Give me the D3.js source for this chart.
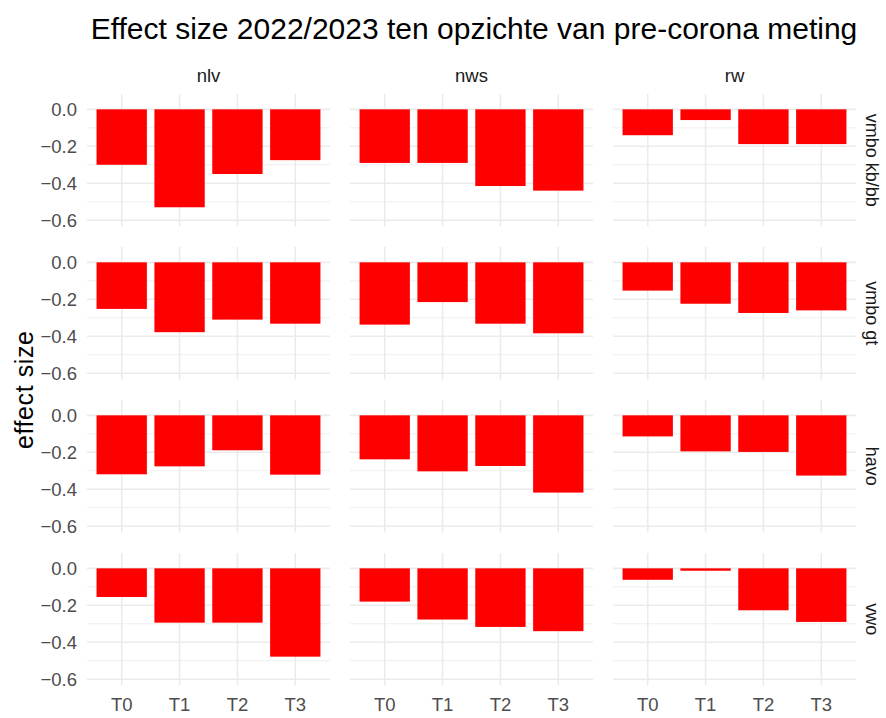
<!DOCTYPE html>
<html>
<head>
<meta charset="utf-8">
<script src="https://cdn.jsdelivr.net/npm/d3@7"></script>
<style>
  body { margin: 0; background: #fff; }
  text { font-family: "Liberation Sans", Arial, sans-serif; }
</style>
</head>
<body>
<div id="container"></div>
<script>
// facets
var subjects = ['nlv', 'nws', 'rw'];
var levels = ['vmbo kb/bb', 'vmbo gt', 'havo', 'vwo'];
var moments = ['T0', 'T1', 'T2', 'T3'];
var yTicks = [0, -0.2, -0.4, -0.6];
var yMinor = [-0.1, -0.3, -0.5];

// effect sizes per level, per subject, T0..T3
var vmboKbbb = {
  nlv: [-0.30, -0.53, -0.35, -0.275],
  nws: [-0.29, -0.29, -0.415, -0.44],
  rw:  [-0.14, -0.058, -0.188, -0.188]
};
var vmboGt = {
  nlv: [-0.252, -0.378, -0.31, -0.332],
  nws: [-0.337, -0.215, -0.332, -0.384],
  rw:  [-0.153, -0.224, -0.274, -0.26]
};
var havo = {
  nlv: [-0.319, -0.276, -0.189, -0.321],
  nws: [-0.238, -0.303, -0.274, -0.418],
  rw:  [-0.114, -0.195, -0.198, -0.326]
};
var vwo = {
  nlv: [-0.155, -0.294, -0.294, -0.478],
  nws: [-0.18, -0.277, -0.317, -0.34],
  rw:  [-0.062, -0.013, -0.227, -0.29]
};
var byLevel = [vmboKbbb, vmboGt, havo, vwo];

var width = 886, height = 718;
var panelLeft = [87, 350, 613];
var panelTop = [94, 247, 400, 553];
var pw = 243, ph = 132.5;

var svg = d3.select('#container').append('svg')
  .attr('width', width)
  .attr('height', height);

var x = d3.scalePoint().domain(moments).range([0, pw]).padding(0.6);
var barW = x.step() * 0.87;
var y = d3.scaleLinear().domain([0.083, -0.634]).range([0, ph]);

// title
svg.append('text')
  .attr('x', 474).attr('y', 39)
  .attr('text-anchor', 'middle')
  .attr('font-size', 30)
  .attr('fill', '#000')
  .text('Effect size 2022/2023 ten opzichte van pre-corona meting');

// y axis title
svg.append('text')
  .attr('transform', 'translate(33,' + (panelTop[0] + (panelTop[3] + ph - panelTop[0]) / 2) + ') rotate(-90)')
  .attr('text-anchor', 'middle')
  .attr('font-size', 25)
  .attr('letter-spacing', 0.6)
  .attr('fill', '#000')
  .text('effect size');

// column strips
subjects.forEach((s, c) => {
  svg.append('text')
    .attr('x', panelLeft[c] + pw / 2).attr('y', 82)
    .attr('text-anchor', 'middle')
    .attr('font-size', 18.5)
    .attr('fill', '#1a1a1a')
    .text(s);
});

// row strips
levels.forEach((l, r) => {
  svg.append('text')
    .attr('transform', 'translate(866,' + (panelTop[r] + ph / 2) + ') rotate(90)')
    .attr('text-anchor', 'middle')
    .attr('font-size', 18)
    .attr('fill', '#1a1a1a')
    .text(l);
});

levels.forEach((l, r) => {
  subjects.forEach((s, c) => {
    var g = svg.append('g')
      .attr('transform', `translate(${panelLeft[c]},${panelTop[r]})`);

    // minor grid
    g.selectAll('.minor').data(yMinor).join('line')
      .attr('x1', 0).attr('x2', pw)
      .attr('y1', d => y(d)).attr('y2', d => y(d))
      .attr('stroke', '#ebebeb').attr('stroke-width', 0.8);

    // major grid
    g.selectAll('.hmaj').data(yTicks).join('line')
      .attr('x1', 0).attr('x2', pw)
      .attr('y1', d => y(d)).attr('y2', d => y(d))
      .attr('stroke', '#ebebeb').attr('stroke-width', 1.6);

    g.selectAll('.vmaj').data(moments).join('line')
      .attr('x1', d => x(d)).attr('x2', d => x(d))
      .attr('y1', 0).attr('y2', ph)
      .attr('stroke', '#ebebeb').attr('stroke-width', 1.6);

    var vals = byLevel[r][s].map((v, i) => ({ t: moments[i], v: v }));
    g.selectAll('rect').data(vals).join('rect')
      .attr('x', d => x(d.t) - barW / 2)
      .attr('width', barW)
      .attr('y', d => y(Math.max(0, d.v)))
      .attr('height', d => Math.abs(y(d.v) - y(0)))
      .attr('fill', '#ff0000');

    // y tick labels on first column
    if (c === 0) {
      g.selectAll('.ylab').data(yTicks).join('text')
        .attr('x', -10).attr('y', d => y(d))
        .attr('dy', '0.35em')
        .attr('text-anchor', 'end')
        .attr('font-size', 18.5)
        .attr('fill', '#4d4d4d')
        .text(d => d3.format('.1f')(d));
    }

    // x tick labels on last row
    if (r === levels.length - 1) {
      g.selectAll('.xlab').data(moments).join('text')
        .attr('x', d => x(d)).attr('y', ph + 25)
        .attr('text-anchor', 'middle')
        .attr('font-size', 18.5)
        .attr('fill', '#4d4d4d')
        .text(d => d);
    }
  });
});
</script>
</body>
</html>
